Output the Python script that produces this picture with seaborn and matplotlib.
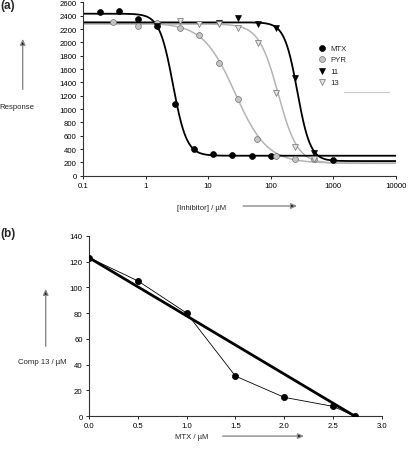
import numpy as np
import pandas as pd
import matplotlib
matplotlib.use("Agg")
import matplotlib.pyplot as plt
import seaborn as sns

# ---------------- data (panel a) ----------------
mtx_x = [0.19, 0.38, 0.75, 1.5, 3.0, 6.0, 12, 24, 50, 100, 1000]
mtx_y = [2450, 2465, 2350, 2240, 1080, 400, 325, 305, 295, 295, 240]
pyr_x = [0.30, 0.75, 1.5, 3.6, 7.1, 15.2, 30, 60, 124, 250, 500]
pyr_y = [2300, 2250, 2290, 2220, 2115, 1695, 1145, 545, 295, 255, 250]
c11_x = [1.5, 15.2, 30, 62, 124, 250, 500]
c11_y = [2240, 2290, 2360, 2270, 2220, 1465, 340]
c13_x = [3.6, 7.1, 15.2, 30, 62, 124, 250, 500]
c13_y = [2315, 2270, 2270, 2220, 1985, 1240, 430, 250]

# four-parameter logistic fits: top, bottom, IC50, hill
fit_params = {
    "MTX": (2430, 300, 2.75, 4.0),
    "PYR": (2290, 190, 27.0, 1.7),
    "11": (2300, 220, 268.0, 4.2),
    "13": (2275, 185, 132.0, 2.8),
}

# ---------------- data (panel b) ----------------
iso_x = [0.0, 0.5, 1.0, 1.5, 2.0, 2.5, 2.72]
iso_y = [123, 105, 80, 31, 14.5, 7.5, 0]
add_x = [0.0, 2.72]
add_y = [123, 0]

a_xticks = [0.1, 1, 10, 100, 1000, 10000]
a_xticklabels = ["0.1", "1", "10", "100", "1000", "10000"]
a_yticks = list(range(0, 2601, 200))
b_xticks = [0.0, 0.5, 1.0, 1.5, 2.0, 2.5, 3.0]
b_yticks = list(range(0, 141, 20))

# ---------------- style ----------------
sns.set_style("ticks")
plt.rcParams["font.family"] = ["Liberation Sans", "DejaVu Sans"]
plt.rcParams["axes.linewidth"] = 0.8
FS = 5.6

fig = plt.figure(figsize=(4.08, 4.52), dpi=100)
ax1 = fig.add_axes([0.2034, 0.609, 0.7664, 0.3836])
ax2 = fig.add_axes([0.218, 0.0774, 0.718, 0.3988])

GREY_LINE = "#b4b4b4"

def logistic(x, top, bottom, ic50, h):
    return bottom + (top - bottom) / (1 + (x / ic50) ** h)

xs = np.logspace(-1, 4, 600)
curve_rows = []
for name, p in fit_params.items():
    for xv in xs:
        curve_rows.append({"x": xv, "y": logistic(xv, *p), "s": name})
curves = pd.DataFrame(curve_rows)
palette_lines = {"MTX": "black", "PYR": GREY_LINE, "11": "black", "13": GREY_LINE}
widths = {"MTX": 1.3, "PYR": 1.1, "11": 1.3, "13": 1.1}
for name in ["PYR", "13", "MTX", "11"]:
    sub = curves[curves.s == name]
    sns.lineplot(data=sub, x="x", y="y", ax=ax1, color=palette_lines[name],
                 lw=widths[name], legend=False, zorder=2)

ms = 18
sns.scatterplot(x=mtx_x, y=mtx_y, ax=ax1, marker="o", s=ms, color="black",
                edgecolor="black", linewidth=0.5, label="MTX", zorder=4)
sns.scatterplot(x=pyr_x, y=pyr_y, ax=ax1, marker="o", s=ms, color="#c4c4c4",
                edgecolor="#707070", linewidth=0.5, label="PYR", zorder=4)
sns.scatterplot(x=c11_x, y=c11_y, ax=ax1, marker="v", s=ms, color="black",
                edgecolor="black", linewidth=0.5, label="11", zorder=4)
sns.scatterplot(x=c13_x, y=c13_y, ax=ax1, marker="v", s=ms, color="#e4e4e4",
                edgecolor="#707070", linewidth=0.5, label="13", zorder=4)

ax1.set_xscale("log")
ax1.set_xlim(0.1, 10000)
ax1.set_ylim(0, 2600)
ax1.set_xticks(a_xticks)
ax1.set_xticklabels(a_xticklabels)
ax1.minorticks_off()
ax1.set_yticks(a_yticks)
ax1.set_xlabel("")
ax1.set_ylabel("")

leg = ax1.legend(loc="upper left", bbox_to_anchor=(0.735, 0.79), frameon=False,
                 fontsize=FS, handlelength=1.0, handletextpad=0.6,
                 labelspacing=0.52, borderpad=0.2, markerscale=1.0)
ax1.plot([0.835, 0.98], [0.485, 0.485], transform=ax1.transAxes,
         color="#c8c8c8", lw=0.8, clip_on=False)

# panel b
sns.lineplot(x=add_x, y=add_y, ax=ax2, color="black", lw=2.0, zorder=2)
sns.lineplot(x=iso_x, y=iso_y, ax=ax2, color="black", lw=0.6, zorder=3)
sns.scatterplot(x=iso_x, y=iso_y, ax=ax2, color="black", s=20,
                edgecolor="black", linewidth=0.5, zorder=4)
ax2.set_xlim(0, 3.0)
ax2.set_ylim(0, 140)
ax2.set_xticks(b_xticks)
ax2.set_xticklabels([f"{v:.1f}" for v in b_xticks])
ax2.set_yticks(b_yticks)

for ax in (ax1, ax2):
    sns.despine(ax=ax)
    ax.tick_params(labelsize=FS, length=2.0, width=0.6, pad=2.5, colors="black")
    for sp in ax.spines.values():
        sp.set_color("#333333")
        sp.set_linewidth(0.8)

# labels and arrows
def arrow(x0, y0, x1, y1):
    fig.add_artist(matplotlib.patches.FancyArrowPatch(
        (x0, y0), (x1, y1), transform=fig.transFigure,
        arrowstyle="-|>,head_length=3.5,head_width=1.6", lw=1.0,
        ec="#8a8a8a", fc="black", mutation_scale=1.0))

fig.text(0.0, 0.987, "(a)", fontsize=8.5, fontweight="bold", va="center", ha="left")
fig.text(0.0, 0.482, "(b)", fontsize=8.5, fontweight="bold", va="center", ha="left")

fig.text(0.042, 0.763, "Response", fontsize=FS, ha="center", va="center")
arrow(0.0556, 0.794, 0.0556, 0.918)
fig.text(0.495, 0.538, "[Inhibitor] / µM", fontsize=FS, ha="center", va="center")
arrow(0.589, 0.542, 0.735, 0.542)

fig.text(0.104, 0.1976, "Comp 13 / µM", fontsize=FS, ha="center", va="center")
arrow(0.112, 0.2257, 0.112, 0.365)
fig.text(0.469, 0.033, "MTX / µM", fontsize=FS, ha="center", va="center")
arrow(0.539, 0.033, 0.752, 0.033)

fig.savefig("out.png", dpi=100)
